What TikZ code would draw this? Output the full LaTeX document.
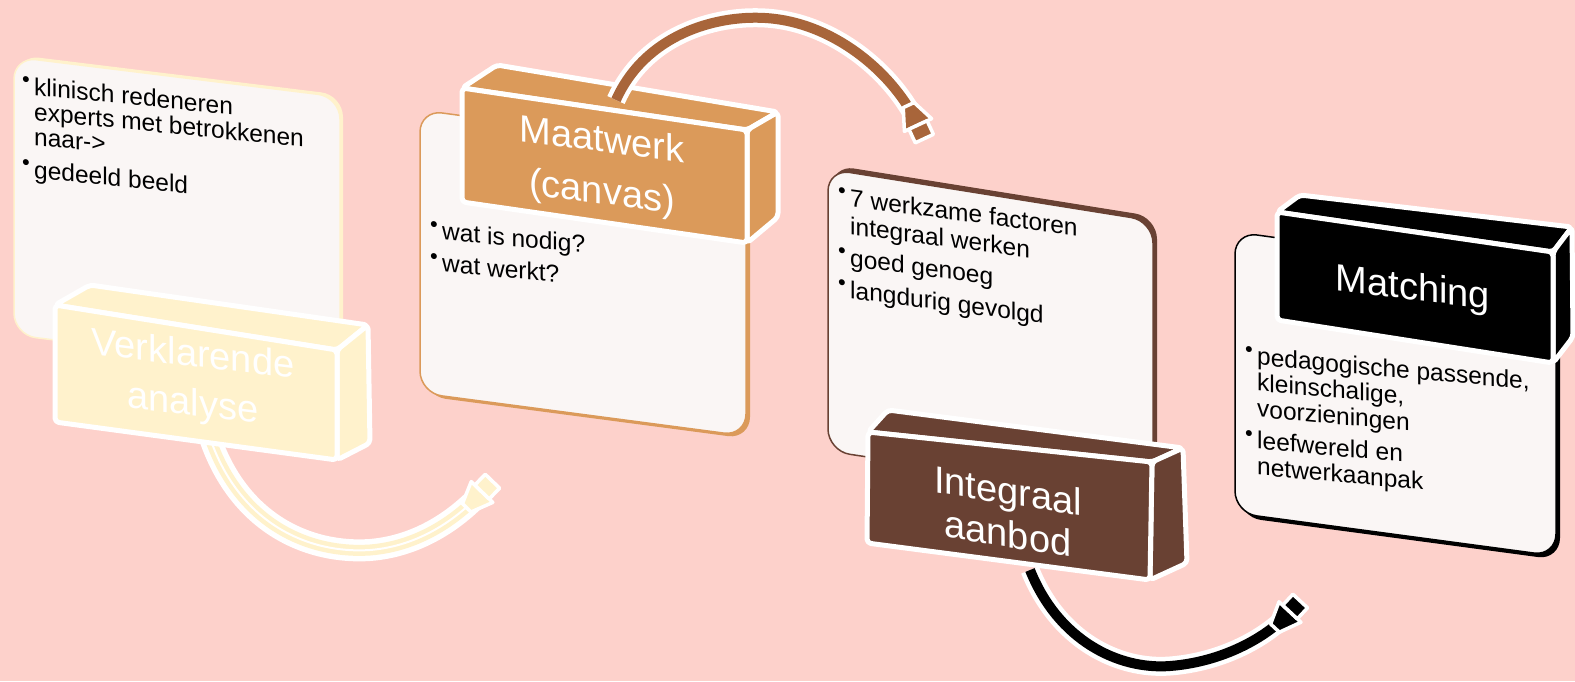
\documentclass[tikz,border=0pt]{standalone}
\usepackage{fontspec}
\setmainfont{Liberation Sans}
\usetikzlibrary{calc}
\definecolor{bg}{HTML}{FDD1CB}
\definecolor{cardfill}{HTML}{FAF6F5}
\definecolor{cA}{HTML}{FFF2CC}
\definecolor{cB}{HTML}{DB9A5A}
\definecolor{cBarrow}{HTML}{A8653A}
\definecolor{cC}{HTML}{694133}
\definecolor{cD}{HTML}{000000}
\newcommand{\bul}{\makebox[11pt][l]{\hspace*{-1pt}\raisebox{7pt}{\fontsize{22}{22}\selectfont •}}}
\newcommand{\ind}{\hspace*{11pt}}
\newcommand{\myarrowend}[3]{%
  \begin{scope}[shift={(#2)}, rotate=#3]
    \filldraw[fill=#1, draw=white, line width=3.5pt, line join=round] (-22,-6) -- (0,-15) -- (0,15) -- (-22,6) -- cycle;
    \filldraw[fill=#1, draw=white, line width=3.5pt, line join=round] (0,-10) rectangle (15,10);
  \end{scope}}
\tikzset{
  card/.style={fill=cardfill, line width=1.5pt, rounded corners=22pt},
  extr/.style={rounded corners=22pt},
  face/.style={draw=white, line width=5pt, line join=round, rounded corners=4pt},
  cardtext/.style={anchor=north west, inner sep=0pt, align=left},
  labeltext/.style={text=white, align=center, inner sep=0pt},
  bandout/.style={draw=white, line width=22pt},
  bandin/.style={line width=11pt},
  bandhl/.style={draw=white, line width=2pt},
}
\begin{document}
\begin{tikzpicture}[x=1pt,y=-1pt]
\useasboundingbox (0,0) rectangle (1575,681);
\fill[bg] (0,0) rectangle (1575,681);

% ---------- step 1 ----------
\fill[cA, extr] (17,55) -- (343,95) -- (343,373) -- (17,333) -- cycle;
\draw[card, draw=cA] (14,57) -- (340,97) -- (340,375) -- (14,335) -- cycle;
\node[cardtext, yslant=-0.10, font=\fontsize{24.5}{25}\selectfont] (t1) at (23,76)
  {\bul klinisch redeneren\\ \ind experts met betrokkenen\\ \ind naar->\\[8pt] \bul gedeeld beeld};

\coordinate (a1s) at (210,438);
\coordinate (a1e) at (482,492);
\draw[bandout] (a1s) .. controls (240,525) and (310,554) .. (370,550) .. controls (420,546) and (458,518) .. (a1e);
\draw[bandin, cA] (a1s) .. controls (240,525) and (310,554) .. (370,550) .. controls (420,546) and (458,518) .. (a1e);
\draw[bandhl] (a1s) .. controls (240,525) and (310,554) .. (370,550) .. controls (420,546) and (458,518) .. (a1e);
\myarrowend{cA}{a1e}{46}

\coordinate (l1a) at (55,305);  \coordinate (l1b) at (337,350);
\coordinate (l1c) at (337,460); \coordinate (l1d) at (55,422);
\coordinate (l1e) at (90,285);  \coordinate (l1f) at (368,325);
\coordinate (l1g) at (370,443);
\filldraw[face, fill=cA] (l1a) -- (l1e) -- (l1f) -- (l1b) -- cycle;
\filldraw[face, fill=cA] (l1b) -- (l1f) -- (l1g) -- (l1c) -- cycle;
\filldraw[face, fill=cA] (l1a) -- (l1b) -- (l1c) -- (l1d) -- cycle;
\node[labeltext, yslant=-0.12, font=\fontsize{38}{49}\selectfont] (L1) at (193,381) {Verklarende\\analyse};

% ---------- step 2 ----------
\fill[cB, extr] (424,113) -- (750,157) -- (750,439) -- (424,396) -- cycle;
\draw[card, draw=cB] (420,110) -- (746,154) -- (746,436) -- (420,393) -- cycle;
\node[cardtext, yslant=-0.09, font=\fontsize{24.5}{25}\selectfont] (t2) at (431,221)
  {\bul wat is nodig?\\[7pt] \bul wat werkt?};

\coordinate (l2a) at (462,88);  \coordinate (l2b) at (747,130);
\coordinate (l2c) at (747,243); \coordinate (l2d) at (462,202);
\coordinate (l2e) at (497,65);  \coordinate (l2f) at (778,112);
\coordinate (l2g) at (778,217);
\filldraw[face, fill=cB] (l2a) -- (l2e) -- (l2f) -- (l2b) -- cycle;
\filldraw[face, fill=cB] (l2b) -- (l2f) -- (l2g) -- (l2c) -- cycle;
\filldraw[face, fill=cB] (l2a) -- (l2b) -- (l2c) -- (l2d) -- cycle;
\node[labeltext, yslant=-0.13, font=\fontsize{38}{52}\selectfont] (L2) at (602,168) {Maatwerk\\(canvas)};

\coordinate (a2s) at (616,100);
\coordinate (a2e) at (918,125);
\draw[bandout, line width=19pt] (a2s) .. controls (645,35) and (715,15) .. (765,18) .. controls (835,22) and (895,75) .. (a2e);
\draw[bandin, cBarrow, line width=10pt] (a2s) .. controls (645,35) and (715,15) .. (765,18) .. controls (835,22) and (895,75) .. (a2e);
\myarrowend{cBarrow}{a2e}{-65}

% ---------- step 3 ----------
\fill[cC, extr] (832,165) -- (1157,217) -- (1157,496) -- (832,447) -- cycle;
\draw[card, draw=cC] (828,169) -- (1153,221) -- (1153,500) -- (828,451) -- cycle;
\node[cardtext, yslant=-0.13, font=\fontsize{24.5}{28}\selectfont] (t3) at (839,187)
  {\bul 7 werkzame factoren\\ \ind integraal werken\\[4pt] \bul goed genoeg\\[4pt] \bul langdurig gevolgd};

\coordinate (a3s) at (1030,570);
\coordinate (a3e) at (1290,612);
\draw[bandout, line width=19pt] (a3s) .. controls (1058,640) and (1118,670) .. (1170,666) .. controls (1222,662) and (1266,638) .. (a3e);
\draw[bandin, cD, line width=10pt] (a3s) .. controls (1058,640) and (1118,670) .. (1170,666) .. controls (1222,662) and (1266,638) .. (a3e);
\myarrowend{cD}{a3e}{47}

\coordinate (l3a) at (868,432);  \coordinate (l3b) at (1152,462);
\coordinate (l3c) at (1150,580); \coordinate (l3d) at (867,543);
\coordinate (l3e) at (888,410);  \coordinate (l3f) at (1183,448);
\coordinate (l3g) at (1187,563);
\filldraw[face, fill=cC] (l3a) -- (l3e) -- (l3f) -- (l3b) -- cycle;
\filldraw[face, fill=cC] (l3b) -- (l3f) -- (l3g) -- (l3c) -- cycle;
\filldraw[face, fill=cC] (l3a) -- (l3b) -- (l3c) -- (l3d) -- cycle;
\node[labeltext, yslant=-0.16, font=\fontsize{38}{43}\selectfont] (L3) at (1008,512) {Integraal\\aanbod};

% ---------- step 4 ----------
\fill[cD, extr] (1239,236) -- (1560,280) -- (1560,560) -- (1239,517) -- cycle;
\draw[card, draw=cD] (1235,232) -- (1556,276) -- (1556,556) -- (1235,513) -- cycle;
\node[cardtext, yslant=-0.09, font=\fontsize{24.5}{26}\selectfont] (t4) at (1246,346)
  {\bul pedagogische passende,\\ \ind kleinschalige,\\ \ind voorzieningen\\[6pt] \bul leefwereld en\\ \ind netwerkaanpak};

\coordinate (l4a) at (1277,212);  \coordinate (l4b) at (1553,252);
\coordinate (l4c) at (1553,363);  \coordinate (l4d) at (1277,320);
\coordinate (l4e) at (1300,195);  \coordinate (l4f) at (1572,227);
\coordinate (l4g) at (1573,337);
\filldraw[face, fill=cD] (l4a) -- (l4e) -- (l4f) -- (l4b) -- cycle;
\filldraw[face, fill=cD] (l4b) -- (l4f) -- (l4g) -- (l4c) -- cycle;
\filldraw[face, fill=cD] (l4a) -- (l4b) -- (l4c) -- (l4d) -- cycle;
\node[labeltext, yslant=-0.12, font=\fontsize{38}{43}\selectfont] (L4) at (1413,290) {Matching};
\end{tikzpicture}
\end{document}
